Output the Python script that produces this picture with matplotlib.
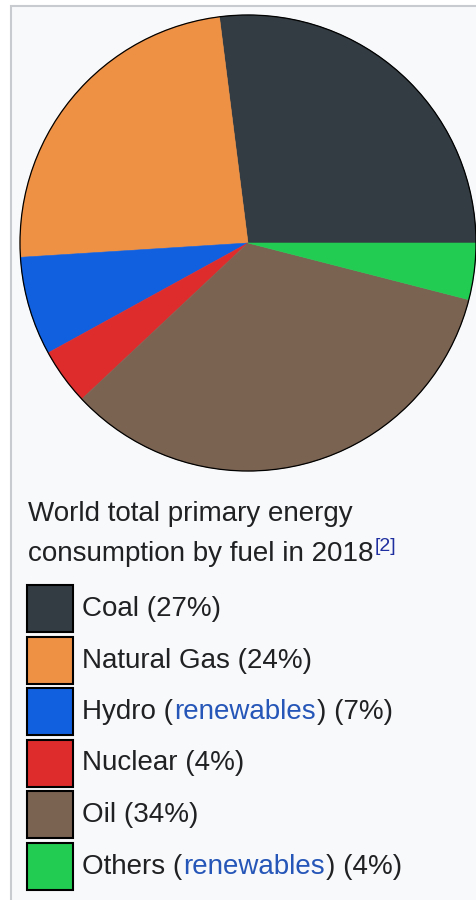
import matplotlib
matplotlib.use('Agg')
import matplotlib.pyplot as plt
from matplotlib.patches import Rectangle, Circle

# data
fuels = ['Coal', 'Natural Gas', 'Hydro', 'Nuclear', 'Oil', 'Others']
shares = [27, 24, 7, 4, 34, 4]
renewable = [False, False, True, False, False, True]
colors = ['#333c42', '#ef9145', '#1060e0', '#de2c2c', '#7b6352', '#22cc52']
title_lines = ['World total primary energy', 'consumption by fuel in 2018']
ref_mark = '[2]'

plt.rcParams['font.family'] = ['Liberation Sans', 'DejaVu Sans']

W, H = 476, 900
fig = plt.figure(figsize=(W / 100, H / 100), dpi=100, facecolor='white')

# background box (infobox style)
bg = fig.add_axes([0, 0, 1, 1])
bg.set_xlim(0, W)
bg.set_ylim(H, 0)
bg.axis('off')
bg.add_patch(Rectangle((11, 6), W, H, facecolor='#f8f9fa', edgecolor='#c8ccd1', lw=1.5))

# pie
cx, cy, r = 248, 243, 228
pax = fig.add_axes([(cx - r) / W, (H - cy - r) / H, 2 * r / W, 2 * r / H])
wedges, _ = pax.pie(shares, colors=colors, startangle=0, counterclock=True,
                    wedgeprops=dict(linewidth=0.4))
for w in wedges:
    w.set_edgecolor(w.get_facecolor())
pax.add_patch(Circle((0, 0), 1, fill=False, edgecolor='black', lw=0.9, clip_on=False))
pax.set_xlim(-1, 1)
pax.set_ylim(-1, 1)
pax.axis('off')

# text
fs = 20
dark = '#202122'
link = '#2556b8'
rend = fig.canvas.get_renderer()


def put(x, y, s, color, size=fs):
    t = bg.text(x, y, s, color=color, fontsize=size, va='baseline', ha='left')
    bb = t.get_window_extent(renderer=rend)
    return x + bb.width


put(28, 521, title_lines[0], dark)
xe = put(28, 561, title_lines[1], dark)
put(xe + 1, 551, ref_mark, '#1f2f9f', size=14)

for i, (name, share, col, ren) in enumerate(zip(fuels, shares, colors, renewable)):
    top = 585 + i * 51.5
    bg.add_patch(Rectangle((27, top), 46, 47, facecolor=col, edgecolor='black', lw=1.5))
    y = top + 31
    x = 82
    if ren:
        x = put(x, y, name + ' (', dark)
        x = put(x + 1, y, 'renewables', link)
        put(x + 1, y, ') (%d%%)' % share, dark)
    else:
        put(x, y, '%s (%d%%)' % (name, share), dark)

fig.savefig('out.png', dpi=100, facecolor='white')
